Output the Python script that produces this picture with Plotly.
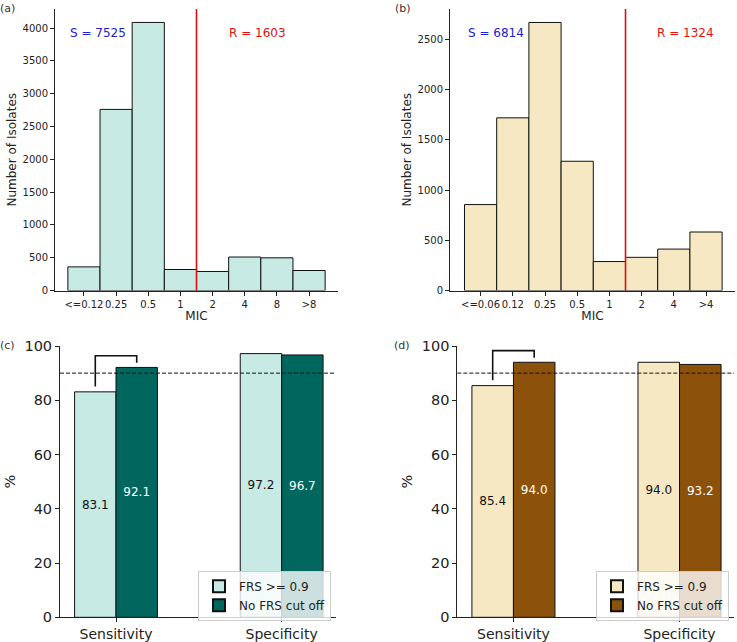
import plotly.graph_objects as go

# ---------------- data ----------------
mic_a = ["<=0.12", "0.25", "0.5", "1", "2", "4", "8", ">8"]
count_a = [360, 2760, 4085, 320, 290, 510, 498, 305]
mic_b = ["<=0.06", "0.12", "0.25", "0.5", "1", "2", "4", ">4"]
count_b = [855, 1718, 2667, 1286, 288, 330, 412, 582]
s_a, r_a = 7525, 1603
s_b, r_b = 6814, 1324
bp_a = 3.5   # breakpoint position between "1" and "2"
bp_b = 4.5

metrics = ["Sensitivity", "Specificity"]
frs_c = [83.1, 97.2]
nocut_c = [92.1, 96.7]
frs_d = [85.4, 94.0]
nocut_d = [94.0, 93.2]
series_names = ["FRS >= 0.9", "No FRS cut off"]
threshold = 90

# ---------------- styling ----------------
FONT = "DejaVu Sans"
W, H = 737, 642
light_a, light_b = "#c7eae5", "#f6e8c3"
dark_c, dark_d = "#01665e", "#8c510a"
AX = "#222222"


def px_x(x0, x1):
    return [x0 / W, x1 / W]


def px_y(top, bottom):
    return [1 - bottom / H, 1 - top / H]


fig = go.Figure()

# ---- histogram panels ----
fig.add_trace(go.Bar(x=list(range(len(mic_a))), y=count_a, width=1,
                     marker=dict(color=light_a, line=dict(color="#111", width=1)),
                     xaxis="x", yaxis="y", showlegend=False))
fig.add_trace(go.Bar(x=list(range(len(mic_b))), y=count_b, width=1,
                     marker=dict(color=light_b, line=dict(color="#111", width=1)),
                     xaxis="x2", yaxis="y2", showlegend=False))

# ---- grouped bar panels ----
idx = list(range(len(metrics)))
for vals_l, vals_r, lc, dc, xa, ya, lg in [
    (frs_c, nocut_c, light_a, dark_c, "x3", "y3", "legend"),
    (frs_d, nocut_d, light_b, dark_d, "x4", "y4", "legend2"),
]:
    fig.add_trace(go.Bar(x=idx, y=vals_l, width=0.25, offset=-0.25, name=series_names[0],
                         marker=dict(color=lc, line=dict(color="#111", width=1)),
                         text=[f"{v:.1f}" for v in vals_l], textposition="inside",
                         insidetextanchor="middle", textangle=0,
                         textfont=dict(family=FONT, size=12, color="#111"),
                         xaxis=xa, yaxis=ya, legend=lg))
    fig.add_trace(go.Bar(x=idx, y=vals_r, width=0.25, offset=0, name=series_names[1],
                         marker=dict(color=dc, line=dict(color="#111", width=1)),
                         text=[f"{v:.1f}" for v in vals_r], textposition="inside",
                         insidetextanchor="middle", textangle=0,
                         textfont=dict(family=FONT, size=12, color="white"),
                         xaxis=xa, yaxis=ya, legend=lg))
    # significance bracket over sensitivity pair
    top = max(vals_l[0], vals_r[0]) + 4.3
    fig.add_trace(go.Scatter(x=[-0.125, -0.125, 0.125, 0.125],
                             y=[vals_l[0] + 2, top, top, vals_r[0] + 1.7],
                             mode="lines", line=dict(color="#111", width=1.6),
                             xaxis=xa, yaxis=ya, showlegend=False, hoverinfo="skip"))

axis_common = dict(showline=True, linecolor=AX, linewidth=1, ticks="outside",
                   ticklen=4, tickcolor=AX, showgrid=False, zeroline=False,
                   automargin=False)

fig.update_layout(
    width=W, height=H, margin=dict(l=0, r=0, t=0, b=0),
    paper_bgcolor="white", plot_bgcolor="white",
    font=dict(family=FONT, color="#222"),
    barmode="overlay",
    xaxis=dict(domain=px_x(55, 338), range=[-0.9, 7.9], tickvals=list(range(len(mic_a))),
               ticktext=mic_a, tickfont=dict(size=10), tickangle=0, anchor="y",
               title=dict(text="MIC", font=dict(size=12), standoff=3), **axis_common),
    yaxis=dict(domain=px_y(9, 290.5), range=[0, 4290], dtick=500, tickfont=dict(size=10),
               anchor="x", title=dict(text="Number of Isolates", font=dict(size=12), standoff=3),
               **axis_common),
    xaxis2=dict(domain=px_x(450, 735), range=[-0.95, 7.9], tickvals=list(range(len(mic_b))),
                ticktext=mic_b, tickfont=dict(size=10), tickangle=0, anchor="y2",
                title=dict(text="MIC", font=dict(size=12), standoff=3), **axis_common),
    yaxis2=dict(domain=px_y(9, 290.5), range=[0, 2801], dtick=500, tickfont=dict(size=10),
                anchor="x2", title=dict(text="Number of Isolates", font=dict(size=12), standoff=3),
                **axis_common),
    xaxis3=dict(domain=px_x(60, 336), range=[-0.338, 1.328], tickvals=idx, ticktext=metrics,
                tickfont=dict(size=14), tickangle=0, anchor="y3", **axis_common),
    yaxis3=dict(domain=px_y(346, 617.3), range=[0, 100], dtick=20, tickfont=dict(size=14.5),
                anchor="x3", title=dict(text="%", font=dict(size=14.5), standoff=5),
                **axis_common),
    xaxis4=dict(domain=px_x(457.3, 734), range=[-0.338, 1.328], tickvals=idx, ticktext=metrics,
                tickfont=dict(size=14), tickangle=0, anchor="y4", **axis_common),
    yaxis4=dict(domain=px_y(346, 617.3), range=[0, 100], dtick=20, tickfont=dict(size=14.5),
                anchor="x4", title=dict(text="%", font=dict(size=14.5), standoff=5),
                **axis_common),
    legend=dict(x=198 / W, y=1 - 570.7 / H, xanchor="left", yanchor="top",
                bgcolor="rgba(255,255,255,0.8)", bordercolor="#cccccc", borderwidth=1,
                font=dict(size=12, family=FONT, color="#222"), tracegroupgap=0,
                itemsizing="constant"),
    legend2=dict(x=596 / W, y=1 - 570.7 / H, xanchor="left", yanchor="top",
                 bgcolor="rgba(255,255,255,0.8)", bordercolor="#cccccc", borderwidth=1,
                 font=dict(size=12, family=FONT, color="#222"), tracegroupgap=0,
                 itemsizing="constant"),
)

shapes = []
# breakpoint lines
for xa, ya, bp in [("x", "y", bp_a), ("x2", "y2", bp_b)]:
    shapes.append(dict(type="line", xref=xa, yref=ya + " domain", x0=bp, x1=bp, y0=0, y1=1,
                       line=dict(color="#e01010", width=1.6)))
# threshold lines
for xa, ya in [("x3", "y3"), ("x4", "y4")]:
    shapes.append(dict(type="line", xref=xa + " domain", yref=ya, x0=0, x1=1,
                       y0=threshold, y1=threshold,
                       line=dict(color="#111", width=1, dash="4px,2px")))
fig.update_layout(shapes=shapes)

ann = []
for xa, ya, sx, rx, s, r in [("x", "y", 0.152, 0.714, s_a, r_a), ("x2", "y2", 0.161, 0.828, s_b, r_b)]:
    ann.append(dict(xref=xa + " domain", yref=ya + " domain", x=sx, y=0.915, text=f"S = {s}",
                    xanchor="center", yanchor="middle",
                    showarrow=False, font=dict(size=12, color="#2020d0")))
    ann.append(dict(xref=xa + " domain", yref=ya + " domain", x=rx, y=0.915, text=f"R = {r}",
                    xanchor="center", yanchor="middle",
                    showarrow=False, font=dict(size=12, color="#e01010")))
for lab, x, y in [("(a)", 8, 8), ("(b)", 403, 8), ("(c)", 8, 345), ("(d)", 402, 345)]:
    ann.append(dict(xref="paper", yref="paper", x=x / W, y=1 - y / H, text=lab,
                    xanchor="center", yanchor="middle",
                    showarrow=False, font=dict(size=11, color="#333")))
fig.update_layout(annotations=ann)

fig.write_html("out.html", config={"displayModeBar": False},
               post_script="document.body.style.margin='0';")
